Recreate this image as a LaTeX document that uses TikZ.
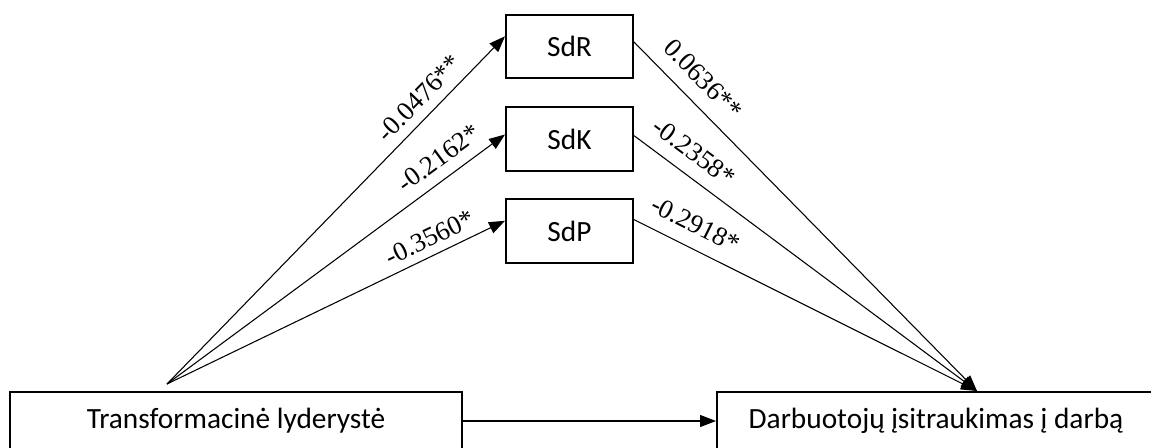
\documentclass[tikz,border=0pt]{standalone}
\usepackage{fontspec}
\setmainfont{Liberation Serif}
\newfontfamily\boxfont{Carlito}
\newfontfamily\labfont{Liberation Serif}
\usetikzlibrary{arrows.meta}
\begin{document}
\begin{tikzpicture}[x=0.75pt,y=-0.75pt,
  box/.style={draw,line width=1.5pt,inner sep=0pt,font=\boxfont\fontsize{22pt}{26pt}\selectfont},
  midbox/.style={box,minimum width=95.25pt,minimum height=47.6pt},
  conn/.style={line width=0.8pt,-{Triangle[length=12pt,width=9pt]}},
  lab/.style={sloped,inner sep=0pt,font=\labfont\fontsize{20pt}{24pt}\selectfont}]
\useasboundingbox (0,0) rectangle (1151,447);
\clip (0,0) rectangle (1151,447);
\node[box,minimum width=339pt,minimum height=43.5pt] (tl) at (236,421) {Transformacinė lyderystė};
\node[box,minimum width=328.5pt,minimum height=43.5pt] (dw) at (936,421) {Darbuotojų įsitraukimas į darbą};
\node[midbox] (sdr) at (569.5,46.5) {SdR};
\node[midbox] (sdk) at (569.5,139) {SdK};
\node[midbox] (sdp) at (569.5,231) {SdP};
\coordinate (src) at (167,384);
\coordinate (tgt) at (977,391);
\draw[conn] (src) -- (sdr.171) node[lab,pos=0.785,above=6.75pt] {-0.0476**};
\draw[conn] (src) -- (sdk.176) node[lab,pos=0.84,above=8.25pt] {-0.2162*};
\draw[conn] (src) -- (sdp.171) node[lab,pos=0.8,above=6pt] {-0.3560*};
\draw[conn] (sdr.4) -- (tgt) node[lab,pos=0.153,above=10.5pt] {0.0636**};
\draw[conn] (sdk.3.5) -- (tgt) node[lab,pos=0.136,above=9.75pt] {-0.2358*};
\draw[conn] (sdp.10) -- (tgt) node[lab,pos=0.149,above=10.5pt] {-0.2918*};
\draw[conn] (tl.east) -- (dw.west);
\end{tikzpicture}
\end{document}
